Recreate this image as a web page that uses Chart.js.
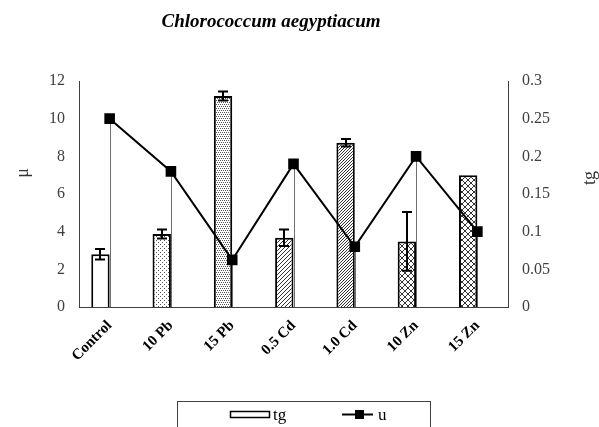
<!DOCTYPE html>
<html>
<head>
<meta charset="utf-8">
<script src="https://cdn.jsdelivr.net/npm/chart.js@4.4.1/dist/chart.umd.min.js"></script>
<style>
  html, body { margin: 0; padding: 0; background: #ffffff; }
  #wrap { width: 599px; height: 427px; }
</style>
</head>
<body>
<div id="wrap"><canvas id="c" width="599" height="427"></canvas></div>
<script>
// Treatments along the category axis
const categories = ['Control', '10 Pb', '15 Pb', '0.5 Cd', '1.0 Cd', '10 Zn', '15 Zn'];
// tg (bars, right axis) with their error half-widths
const tgValues = [0.070, 0.097, 0.280, 0.092, 0.218, 0.087, 0.175];
const tgErrors = [0.007, 0.006, 0.006, 0.011, 0.005, 0.039, 0];
// u (line, left axis, μ)
const uValues = [10.0, 7.2, 2.5, 7.6, 3.2, 8.0, 4.0];
// Tick labels of both value axes
const leftTickLabels = ['0', '2', '4', '6', '8', '10', '12'];
const rightTickLabels = ['0', '0.05', '0.1', '0.15', '0.2', '0.25', '0.3'];

const SERIF = '"Liberation Serif", "Times New Roman", serif';
const canvas = document.getElementById('c');
const ctx = canvas.getContext('2d');

// Small repeating fills for the bars
function makePattern(size, paint) {
  const c = document.createElement('canvas');
  c.width = size; c.height = size;
  const g = c.getContext('2d');
  g.fillStyle = '#ffffff';
  g.fillRect(0, 0, size, size);
  paint(g, size);
  return ctx.createPattern(c, 'repeat');
}
const pWhite = '#ffffff';
const pDotsLight = makePattern(4, g => {
  g.fillStyle = '#555555';
  g.fillRect(0, 0, 1, 1); g.fillRect(2, 2, 1, 1);
});
const pDotsDense = makePattern(4, g => {
  g.fillStyle = '#555555';
  g.fillRect(0, 0, 1, 1); g.fillRect(2, 0, 1, 1);
  g.fillRect(1, 2, 1, 1); g.fillRect(3, 2, 1, 1);
});
const pDiag = makePattern(4, g => {
  g.fillStyle = '#333333';
  for (let i = 0; i < 4; i++) g.fillRect(3 - i, i, 1, 1);
});
const pDiagDark = makePattern(3, g => {
  g.fillStyle = '#333333';
  for (let i = 0; i < 3; i++) g.fillRect(2 - i, i, 1, 1);
});
const pCross = makePattern(6, g => {
  g.fillStyle = '#333333';
  for (let i = 0; i < 6; i++) { g.fillRect(i, i, 1, 1); g.fillRect(5 - i, i, 1, 1); }
});
const barFills = [pWhite, pDotsLight, pDotsDense, pDiag, pDiagDark, pCross, pCross];

const overlay = {
  id: 'overlay',
  beforeDatasetsDraw(chart) {
    // drop lines from every u point down to the category axis
    const c = chart.ctx;
    const meta = chart.getDatasetMeta(2);
    const yBase = chart.scales.y.getPixelForValue(0);
    c.save();
    c.strokeStyle = '#6f6f6f';
    c.lineWidth = 1;
    c.beginPath();
    meta.data.forEach(pt => {
      const x = Math.round(pt.x) + 0.5;
      c.moveTo(x, pt.y);
      c.lineTo(x, yBase);
    });
    c.stroke();
    c.restore();
  },
  afterDatasetDraw(chart, args) {
    if (args.index !== 0) return;
    // error bars on the tg columns
    const c = chart.ctx;
    const y1 = chart.scales.y1;
    c.save();
    c.strokeStyle = '#000000';
    c.lineWidth = 2;
    args.meta.data.forEach((bar, i) => {
      const e = tgErrors[i];
      if (!e) return;
      const x = Math.round(bar.x);
      const top = y1.getPixelForValue(tgValues[i] + e);
      const bot = y1.getPixelForValue(tgValues[i] - e);
      c.beginPath();
      c.moveTo(x, top); c.lineTo(x, bot);
      c.moveTo(x - 5, top); c.lineTo(x + 5, top);
      c.moveTo(x - 5, bot); c.lineTo(x + 5, bot);
      c.stroke();
    });
    c.restore();
  },
  afterDraw(chart) {
    const c = chart.ctx;
    c.save();
    // heading
    c.fillStyle = '#000000';
    c.font = 'italic bold 19px ' + SERIF;
    c.textAlign = 'center';
    c.textBaseline = 'alphabetic';
    c.fillText('Chlorococcum aegyptiacum', 271, 27);

    // axis names
    c.font = '18px ' + SERIF;
    c.fillStyle = '#333333';
    c.textBaseline = 'middle';
    c.save();
    c.translate(23, 173);
    c.rotate(-Math.PI / 2);
    c.fillText('μ', 0, 0);
    c.restore();
    c.save();
    c.translate(590, 178);
    c.rotate(-Math.PI / 2);
    c.fillText('tg', 0, 0);
    c.restore();

    // legend
    c.strokeStyle = '#404040';
    c.lineWidth = 1;
    c.strokeRect(177.5, 401.5, 253, 40);
    c.fillStyle = '#ffffff';
    c.strokeStyle = '#000000';
    c.lineWidth = 1.5;
    c.fillRect(230.5, 411.5, 39, 6);
    c.strokeRect(230.5, 411.5, 39, 6);
    c.fillStyle = '#000000';
    c.font = '17px ' + SERIF;
    c.textAlign = 'left';
    c.textBaseline = 'alphabetic';
    c.fillText('tg', 273, 420);
    c.lineWidth = 2;
    c.beginPath();
    c.moveTo(342, 414.5); c.lineTo(373, 414.5);
    c.stroke();
    c.fillRect(355, 410, 9, 9);
    c.fillText('u', 378, 420);
    c.restore();
  }
};

new Chart(ctx, {
  data: {
    labels: categories,
    datasets: [
      {
        type: 'bar',
        label: 'tg',
        data: tgValues,
        yAxisID: 'y1',
        backgroundColor: barFills,
        borderColor: '#000000',
        borderWidth: 2,
        order: 1
      },
      {
        // empty companion slot, keeps the tg columns left of each category centre
        type: 'bar',
        label: '',
        data: categories.map(() => null),
        yAxisID: 'y1',
        backgroundColor: 'rgba(0,0,0,0)',
        borderWidth: 0,
        order: 2
      },
      {
        type: 'line',
        label: 'u',
        data: uValues,
        yAxisID: 'y',
        borderColor: '#000000',
        borderWidth: 2,
        tension: 0,
        pointStyle: 'rect',
        pointRadius: 7.5,
        pointBackgroundColor: '#000000',
        pointBorderColor: '#000000',
        pointBorderWidth: 0,
        order: 0
      }
    ]
  },
  options: {
    responsive: false,
    animation: false,
    devicePixelRatio: 1,
    layout: { padding: { top: 81, left: 0, right: 0, bottom: 0 } },
    datasets: { bar: { categoryPercentage: 0.6, barPercentage: 1.0 } },
    plugins: { legend: { display: false }, tooltip: { enabled: false } },
    scales: {
      x: {
        type: 'category',
        offset: true,
        grid: { display: false, drawTicks: false },
        border: { display: true, color: '#404040', width: 1 },
        ticks: {
          minRotation: 45, maxRotation: 45, autoSkip: false, padding: 10,
          color: '#000000',
          font: { family: SERIF, size: 15, weight: 'bold' }
        },
        afterFit: s => { s.height = 120; }
      },
      y: {
        position: 'left',
        min: 0, max: 12,
        grid: { display: false, drawTicks: false },
        border: { display: true, color: '#404040', width: 1 },
        ticks: {
          stepSize: 2, padding: 14, color: '#404040',
          font: { family: SERIF, size: 16 },
          callback: (v, i) => leftTickLabels[i]
        },
        afterFit: s => { s.width = 79; }
      },
      y1: {
        position: 'right',
        min: 0, max: 0.3,
        grid: { display: false, drawTicks: false },
        border: { display: true, color: '#404040', width: 1 },
        ticks: {
          stepSize: 0.05, padding: 14, color: '#404040',
          font: { family: SERIF, size: 16 },
          callback: (v, i) => rightTickLabels[i]
        },
        afterFit: s => { s.width = 91; }
      }
    }
  },
  plugins: [overlay]
});
</script>
</body>
</html>
